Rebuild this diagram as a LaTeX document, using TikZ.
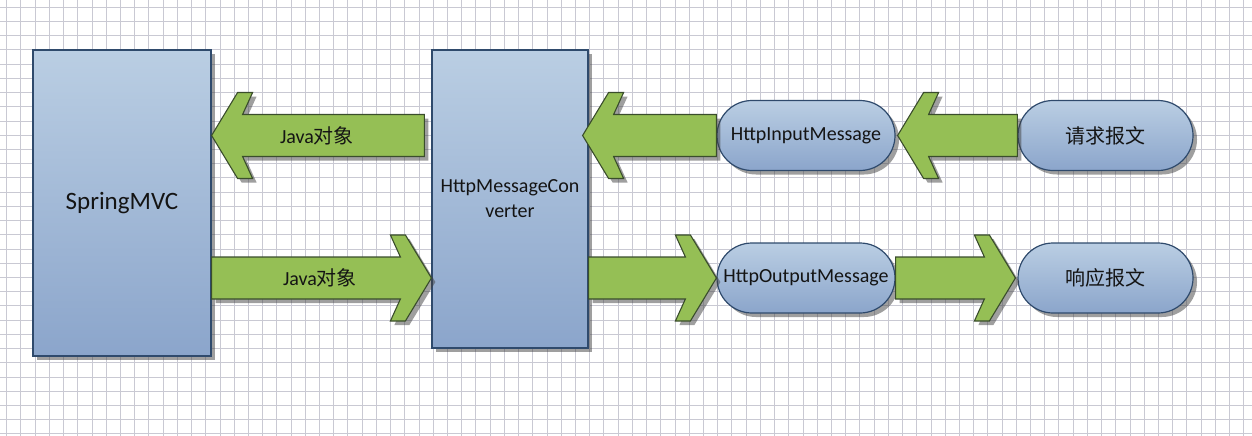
\documentclass[tikz,border=0pt]{standalone}
\usepackage{fontspec}
\setmainfont{Carlito}
\newfontfamily\cjk{Noto Sans CJK SC}
\usetikzlibrary{shadows,calc}
\definecolor{gridc}{HTML}{C9C9D3}
\definecolor{boxtop}{HTML}{BACEE3}
\definecolor{boxbot}{HTML}{8BA5CB}
\definecolor{boxedge}{HTML}{2F4A6C}
\definecolor{arrfill}{HTML}{95BF55}
\definecolor{arredge}{HTML}{3A4D2C}
\definecolor{txt}{HTML}{141414}
\tikzset{
 gridline/.style={draw=gridc, line width=1pt},
 shad/.style={drop shadow={shadow xshift=4pt, shadow yshift=-4pt, opacity=0.5, fill=black!75}},
 box/.style={rectangle, draw=boxedge, line width=1.2pt, top color=boxtop, bottom color=boxbot, shad, text=txt, inner sep=0pt},
 pill/.style={box, rounded corners=35pt, minimum width=178pt, minimum height=70pt, font=\fontsize{20}{24}\selectfont},
 fat/.style={draw=arredge, fill=arrfill, line width=1.1pt, line join=miter, shad},
 lbl/.style={text=txt, font=\fontsize{20}{24}\selectfont}
}
% #1 tail coordinate, #2 tip coordinate, #3 direction (1 right, -1 left)
\newcommand\fatarrow[3]{%
 \draw[fat] (#2) -- ++({-1*(#3)*26},-43) -- ++({-1*(#3)*15},0) -- ++({(#3)*10},22)
  -- ($(#1)+(0,-21)$) -- ($(#1)+(0,21)$) -- ($(#2)+({-1*(#3)*31},21)$)
  -- ++({-1*(#3)*10},22) -- ++({(#3)*15},0) -- cycle;}
\begin{document}
\begin{tikzpicture}[x=1pt,y=-1pt]
\useasboundingbox (0,0) rectangle (1252,436);
\fill[white] (0,0) rectangle (1252,436);
\foreach \i in {0,...,87} \draw[gridline] ({6.7+14.22*\i},0) -- ++(0,436);
\foreach \j in {0,...,30} \draw[gridline] (0,{7.3+14.22*\j}) -- ++(1252,0);
\coordinate (rowA) at (0,135.5);
\coordinate (rowB) at (0,278);
\node[box, minimum width=178pt, minimum height=306pt, font=\fontsize{25}{30}\selectfont] (spring) at (122,203) {SpringMVC};
\node[box, minimum width=156pt, minimum height=298pt, align=center, font=\fontsize{20}{25}\selectfont] (conv) at (510,199) {HttpMessageCon\\verter};
\node[pill] (input) at (806,135.5) {HttpInputMessage};
\node[pill, minimum width=175pt] (req) at (1105.5,135.5) {\cjk 请求报文};
\node[pill] (output) at (806,278) {HttpOutputMessage};
\node[pill, minimum width=175pt] (resp) at (1105.5,278) {\cjk 响应报文};
\coordinate (t1) at ($(conv.west |- rowA)+(-7,0)$);
\coordinate (p1) at (spring.east |- rowA);
\coordinate (t2) at (spring.east |- rowB);
\coordinate (p2) at (conv.west |- rowB);
\coordinate (p3) at ($(conv.east |- rowA)+(-6,0)$);
\coordinate (t4) at (conv.east |- rowB);
\coordinate (p5) at ($(input.east)+(2,0)$);
\coordinate (p6) at ($(resp.west)+(-2,0)$);
\fatarrow{t1}{p1}{-1}
\fatarrow{t2}{p2}{1}
\fatarrow{input.west}{p3}{-1}
\fatarrow{t4}{output.west}{1}
\fatarrow{req.west}{p5}{-1}
\fatarrow{output.east}{p6}{1}
\node[lbl] (j1) at (317,136) {Java{\cjk 对象}};
\node[lbl] (j2) at (320,278) {Java{\cjk 对象}};
\end{tikzpicture}
\end{document}
